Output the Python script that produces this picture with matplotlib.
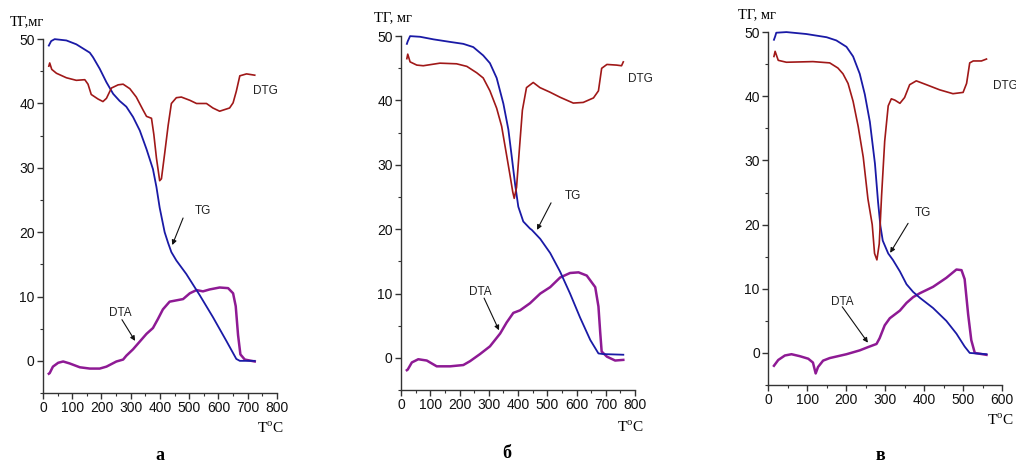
import matplotlib
matplotlib.use("Agg")
import matplotlib.pyplot as plt
from matplotlib.ticker import MultipleLocator

# --- панель а ---
a_tg_x = [20, 28, 40, 80, 114, 160, 171, 194, 217, 240, 262, 285, 308, 331, 354, 376, 388, 399,
          416, 428, 439, 456, 490, 536, 581, 627, 661, 673, 724]
a_tg_y = [49.0, 49.7, 50.0, 49.8, 49.2, 47.9, 47.2, 45.4, 43.3, 41.5, 40.4, 39.5, 37.9, 35.8, 32.9,
          29.8, 27.0, 23.8, 20.0, 18.3, 16.9, 15.6, 13.5, 10.2, 6.8, 3.1, 0.3, 0.0, 0.0]
a_dtg_x = [20, 23, 30, 46, 80, 114, 143, 154, 165, 188, 205, 217, 234, 257, 274, 297, 319, 342, 354,
           371, 379, 388, 399, 405, 416, 428, 439, 456, 473, 502, 525, 559, 581, 604, 638, 650, 661,
           673, 696, 724]
a_dtg_y = [45.8, 46.3, 45.3, 44.7, 44.0, 43.6, 43.7, 43.0, 41.4, 40.7, 40.3, 40.8, 42.4, 42.9, 43.0,
           42.3, 41.0, 39.0, 38.0, 37.7, 35.2, 31.5, 28.0, 28.3, 32.2, 36.6, 40.0, 40.9, 41.0, 40.5,
           40.0, 40.0, 39.3, 38.8, 39.3, 40.1, 41.9, 44.3, 44.6, 44.4]
a_dta_x = [20, 23, 34, 52, 69, 91, 126, 160, 194, 217, 251, 274, 285, 308, 331, 354, 376, 393, 410,
           433, 456, 479, 502, 525, 547, 570, 604, 633, 650, 659, 667, 675, 690, 724]
a_dta_y = [-2.0, -1.9, -0.9, -0.3, -0.1, -0.4, -1.0, -1.2, -1.2, -0.9, -0.1, 0.2, 0.8, 1.8, 3.0,
           4.2, 5.1, 6.5, 8.0, 9.2, 9.4, 9.6, 10.5, 11.0, 10.8, 11.1, 11.4, 11.3, 10.5, 8.5, 4.0,
           1.0, 0.2, -0.1]

# --- панель б ---
b_tg_x = [20, 23, 31, 65, 111, 168, 213, 247, 281, 304, 327, 350, 367, 378, 390, 401, 418, 441,
          447, 476, 510, 544, 578, 612, 647, 675, 692, 760]
b_tg_y = [48.8, 49.2, 50.0, 49.9, 49.5, 49.1, 48.8, 48.3, 47.0, 45.8, 43.5, 39.5, 35.5, 31.5, 27.0,
          23.5, 21.2, 20.1, 19.9, 18.5, 16.3, 13.4, 10.0, 6.3, 2.8, 0.7, 0.6, 0.5]
b_dtg_x = [20, 23, 31, 54, 76, 133, 190, 225, 259, 281, 304, 327, 344, 361, 373, 382, 387, 395, 404,
           415, 429, 452, 475, 509, 544, 589, 623, 658, 675, 686, 704, 737, 754, 760]
b_dtg_y = [46.5, 47.2, 46.0, 45.5, 45.4, 45.8, 45.7, 45.3, 44.3, 43.5, 41.5, 38.8, 36.0, 31.5, 28.3,
           25.8, 24.8, 26.5, 32.0, 38.5, 42.0, 42.8, 42.0, 41.3, 40.5, 39.6, 39.7, 40.4, 41.5, 45.0,
           45.6, 45.5, 45.4, 46.0]
b_dta_x = [20, 23, 37, 59, 88, 122, 168, 213, 236, 270, 304, 339, 361, 384, 407, 441, 476, 510, 544,
           578, 607, 635, 664, 675, 681, 686, 704, 732, 760]
b_dta_y = [-1.9, -1.8, -0.7, -0.2, -0.4, -1.3, -1.3, -1.1, -0.5, 0.6, 1.8, 3.8, 5.5, 7.0, 7.4, 8.5,
           10.0, 11.0, 12.5, 13.2, 13.3, 12.8, 11.0, 8.0, 4.0, 1.0, 0.2, -0.4, -0.3]

# --- панель в ---
c_tg_x = [15, 18, 21, 47, 98, 150, 175, 201, 218, 235, 248, 261, 274, 282, 288, 294, 308, 320, 338,
          355, 372, 389, 423, 457, 483, 504, 517, 560]
c_tg_y = [48.8, 49.3, 49.9, 50.0, 49.7, 49.2, 48.7, 47.7, 46.2, 43.5, 40.3, 36.0, 29.5, 23.5, 19.8,
          17.5, 15.5, 14.5, 12.7, 10.7, 9.5, 8.6, 7.0, 5.0, 3.0, 1.0, 0.0, -0.2]
c_dtg_x = [15, 18, 26, 47, 115, 158, 179, 192, 205, 218, 231, 244, 256, 267, 273, 279, 285, 291, 299,
           308, 316, 325, 338, 350, 363, 380, 406, 440, 474, 500, 509, 517, 526, 547, 560]
c_dtg_y = [46.2, 47.0, 45.6, 45.3, 45.4, 45.2, 44.4, 43.5, 42.0, 39.2, 35.3, 30.5, 24.0, 20.0, 15.5,
           14.5, 17.0, 24.5, 33.0, 38.5, 39.6, 39.4, 38.9, 39.8, 41.8, 42.4, 41.8, 41.0, 40.4, 40.6,
           42.0, 45.2, 45.5, 45.5, 45.8]
c_dta_x = [15, 26, 43, 60, 81, 103, 115, 122, 128, 141, 158, 201, 235, 256, 278, 286, 299, 312, 338,
           355, 372, 389, 423, 457, 483, 496, 504, 513, 521, 530, 560]
c_dta_y = [-2.0, -1.1, -0.4, -0.2, -0.5, -0.9, -1.5, -3.2, -2.2, -1.2, -0.8, -0.2, 0.4, 0.9, 1.4,
           2.3, 4.3, 5.4, 6.6, 7.8, 8.7, 9.3, 10.3, 11.7, 13.0, 12.9, 11.5, 6.0, 2.0, 0.0, -0.3]

TG_C = "#1a1aa6"
DTG_C = "#a01818"
DTA_C = "#8e1a94"
SERIF = "Liberation Serif"
SANS = "Liberation Sans"

panels = [
    dict(rect=[0.0423, 0.1548, 0.2303, 0.761], xmax=800,
         tg=(a_tg_x, a_tg_y), dtg=(a_dtg_x, a_dtg_y), dta=(a_dta_x, a_dta_y),
         ylab="ТГ,мг", ylab_xy=(10, 22), tlab_xy=(270, 428), letter="а", letter_xy=(160, 455),
         dtg_txt=(719, 42.0),
         tg_txt=(520, 23.3), tg_arr=((479, 22.2), (442, 18.0)),
         dta_txt=(264, 7.5), dta_arr=((270, 6.4), (315, 3.1))),
    dict(rect=[0.3947, 0.161, 0.2303, 0.7613], xmax=800,
         tg=(b_tg_x, b_tg_y), dtg=(b_dtg_x, b_dtg_y), dta=(b_dta_x, b_dta_y),
         ylab="ТГ, мг", ylab_xy=(374, 18), tlab_xy=(630, 427), letter="б", letter_xy=(507, 453),
         dtg_txt=(776, 43.3),
         tg_txt=(561, 25.2), tg_arr=((513, 24.1), (465, 19.9)),
         dta_txt=(270, 10.2), dta_arr=((284, 9.3), (335, 4.3))),
    dict(rect=[0.756, 0.172, 0.2303, 0.759], xmax=600,
         tg=(c_tg_x, c_tg_y), dtg=(c_dtg_x, c_dtg_y), dta=(c_dta_x, c_dta_y),
         ylab="ТГ, мг", ylab_xy=(738, 15), tlab_xy=(1000, 420), letter="в", letter_xy=(880, 455),
         dtg_txt=(577, 41.6),
         tg_txt=(377, 21.8), tg_arr=((359, 20.2), (313, 15.6)),
         dta_txt=(190, 8.0), dta_arr=((190, 7.2), (256, 1.6))),
]

W, H = 1016, 465
fig = plt.figure(figsize=(W / 100, H / 100), dpi=100)

for p in panels:
    ax = fig.add_axes(p["rect"])
    ax.plot(*p["dta"], color=DTA_C, lw=1.8, clip_on=False)
    ax.plot(*p["tg"], color=TG_C, lw=1.3, clip_on=False)
    ax.plot(*p["dtg"], color=DTG_C, lw=1.2, clip_on=False)
    ax.set_xlim(0, p["xmax"])
    ax.set_ylim(-5, 50)
    ax.spines["top"].set_visible(False)
    ax.spines["right"].set_visible(False)
    for s in ("left", "bottom"):
        ax.spines[s].set_color("#333333")
        ax.spines[s].set_linewidth(1.0)
    ax.xaxis.set_major_locator(MultipleLocator(100))
    ax.xaxis.set_minor_locator(MultipleLocator(50))
    ax.yaxis.set_major_locator(MultipleLocator(10))
    ax.yaxis.set_minor_locator(MultipleLocator(5))
    ax.tick_params(which="major", direction="out", length=4, width=1, color="#333333",
                   labelsize=10, pad=2)
    ax.tick_params(which="minor", direction="out", length=2.5, width=0.8, color="#333333")
    for lab in ax.get_xticklabels() + ax.get_yticklabels():
        lab.set_family(SANS)
        lab.set_color("#111111")

    ax.text(*p["dtg_txt"], "DTG", fontsize=8.5, family=SANS, color="#222222",
            ha="left", va="center", clip_on=False)
    ax.text(*p["tg_txt"], "TG", fontsize=8.5, family=SANS, color="#222222",
            ha="left", va="center")
    ax.text(*p["dta_txt"], "DTA", fontsize=8.5, family=SANS, color="#222222",
            ha="center", va="center")
    for start, tip in (p["tg_arr"], p["dta_arr"]):
        ax.annotate("", xy=tip, xytext=start,
                    arrowprops=dict(arrowstyle="-|>", color="#111111", lw=0.8,
                                    mutation_scale=7, shrinkA=0, shrinkB=0))

    fig.text(p["ylab_xy"][0] / W, 1 - p["ylab_xy"][1] / H, p["ylab"], family=SERIF,
             fontsize=10.5, ha="left", va="center")
    fig.text(p["tlab_xy"][0] / W, 1 - p["tlab_xy"][1] / H, r"T$^\mathregular{o}$C",
             family=SERIF, fontsize=11, ha="center", va="center")
    fig.text(p["letter_xy"][0] / W, 1 - p["letter_xy"][1] / H, p["letter"], family=SERIF,
             fontsize=13, fontweight="bold", ha="center", va="center")

fig.savefig("out.png", dpi=100)
